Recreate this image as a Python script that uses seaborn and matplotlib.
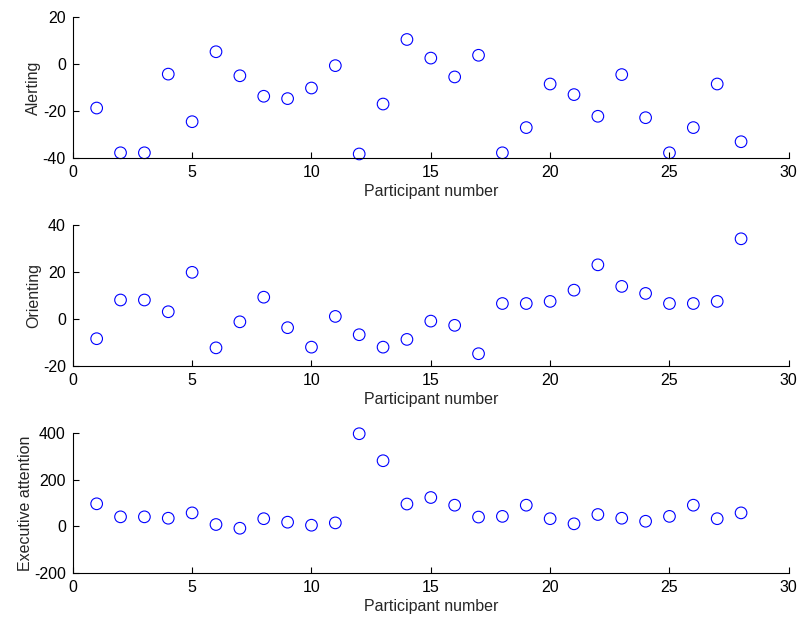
import matplotlib
matplotlib.use("Agg")
import matplotlib.pyplot as plt
import seaborn as sns

# values
participants = list(range(1, 29))
alerting = [-18.7, -37.7, -37.7, -4.3, -24.5, 5.2, -5.0, -13.7, -14.7, -10.2,
            -0.7, -38.2, -17.0, 10.4, 2.5, -5.5, 3.7, -37.7, -27.0, -8.5,
            -13.0, -22.2, -4.5, -22.8, -37.7, -27.0, -8.5, -33.0]
orienting = [-8.5, 8.0, 8.0, 3.0, 19.8, -12.4, -1.3, 9.2, -3.8, -12.1,
             1.0, -6.8, -12.1, -8.8, -1.0, -2.8, -14.9, 6.5, 6.5, 7.4,
             12.2, 23.0, 13.8, 10.8, 6.5, 6.5, 7.4, 34.1]
executive = [96, 40, 40, 34, 57, 7, -9, 32, 17, 4,
             14, 397, 281, 95, 123, 90, 39, 42, 90, 32,
             10, 50, 34, 21, 42, 90, 32, 57]

panels = [
    ("Alerting", alerting, (-40, 20), [-40, -20, 0, 20]),
    ("Orienting", orienting, (-20, 40), [-20, 0, 20, 40]),
    ("Executive attention", executive, (-200, 400), [-200, 0, 200, 400]),
]

sns.set_style("white")
plt.rcParams['font.family'] = ['Liberation Sans', 'DejaVu Sans']
plt.rcParams['font.size'] = 11.5
plt.rcParams['axes.unicode_minus'] = False

fig = plt.figure(figsize=(8, 6.18), dpi=100)
boxes = [
    [0.091, 0.744, 0.895, 0.2287],
    [0.091, 0.4083, 0.895, 0.2277],
    [0.091, 0.0733, 0.895, 0.226],
]

for box, (label, values, ylim, yticks) in zip(boxes, panels):
    ax = fig.add_axes(box)
    sns.scatterplot(x=participants, y=values, ax=ax, marker='o', s=70,
                    facecolors='none', edgecolors='blue', linewidth=0.8,
                    clip_on=False)
    ax.set_xlim(0, 30)
    ax.set_ylim(*ylim)
    ax.set_xticks([0, 5, 10, 15, 20, 25, 30])
    ax.set_yticks(yticks)
    ax.set_xlabel("Participant number", labelpad=3)
    ax.set_ylabel(label, labelpad=1)
    ax.spines['top'].set_visible(False)
    ax.spines['right'].set_visible(False)
    for s in ('left', 'bottom'):
        ax.spines[s].set_color('black')
        ax.spines[s].set_linewidth(0.8)
    ax.tick_params(direction='in', length=4, width=0.8, colors='black',
                   left=True, bottom=True, pad=5)

fig.savefig("out.png", dpi=100, facecolor='white')
